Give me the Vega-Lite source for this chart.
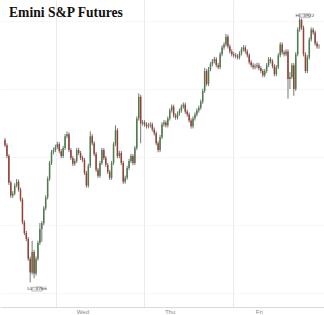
{
  "$schema": "https://vega.github.io/schema/vega-lite/v6.json",
  "width": 324,
  "height": 307,
  "autosize": {"type": "none"},
  "padding": {"left": 0, "right": 0, "top": 0, "bottom": 8},
  "background": "white",
  "title": {
    "text": "Emini S&P Futures",
    "anchor": "start",
    "frame": "group",
    "orient": "top",
    "offset": -31,
    "dx": 9,
    "baseline": "alphabetic",
    "font": "Liberation Serif",
    "fontSize": 13.6,
    "fontWeight": "bold",
    "color": "#111"
  },
  "config": {
    "view": {"stroke": null},
    "axis": {"gridColor": "#ececec", "gridWidth": 0.7}
  },
  "datasets": {
    "candles": [
      {"n":0,"o":3850.0,"c":3846.9,"h":3851.2,"l":3845.8},
      {"n":1,"o":3846.9,"c":3840.5,"h":3848.0,"l":3839.2},
      {"n":2,"o":3840.5,"c":3824.8,"h":3841.6,"l":3823.5},
      {"n":3,"o":3824.8,"c":3817.2,"h":3826.0,"l":3815.9},
      {"n":4,"o":3817.2,"c":3818.4,"h":3819.8,"l":3815.8},
      {"n":5,"o":3818.4,"c":3823.1,"h":3824.4,"l":3817.3},
      {"n":6,"o":3823.1,"c":3825.4,"h":3827.0,"l":3822.0},
      {"n":7,"o":3825.4,"c":3820.7,"h":3826.6,"l":3819.5},
      {"n":8,"o":3820.7,"c":3814.9,"h":3821.9,"l":3813.6},
      {"n":9,"o":3814.9,"c":3801.5,"h":3816.0,"l":3800.2},
      {"n":10,"o":3801.5,"c":3795.1,"h":3802.7,"l":3793.8},
      {"n":11,"o":3795.1,"c":3791.6,"h":3796.4,"l":3790.3},
      {"n":12,"o":3791.6,"c":3780.0,"h":3792.8,"l":3778.7},
      {"n":13,"o":3780.0,"c":3771.8,"h":3781.2,"l":3766.0},
      {"n":14,"o":3771.8,"c":3784.0,"h":3790.5,"l":3770.6},
      {"n":15,"o":3784.0,"c":3771.3,"h":3785.2,"l":3768.5},
      {"n":16,"o":3771.3,"c":3780.0,"h":3781.3,"l":3770.0},
      {"n":17,"o":3780.0,"c":3789.3,"h":3790.6,"l":3778.8},
      {"n":18,"o":3789.3,"c":3797.5,"h":3801.0,"l":3788.0},
      {"n":19,"o":3797.5,"c":3800.9,"h":3802.2,"l":3790.0},
      {"n":20,"o":3800.9,"c":3809.7,"h":3811.0,"l":3799.7},
      {"n":21,"o":3809.7,"c":3816.1,"h":3817.4,"l":3808.5},
      {"n":22,"o":3816.1,"c":3827.1,"h":3828.4,"l":3814.9},
      {"n":23,"o":3827.1,"c":3836.4,"h":3837.7,"l":3825.9},
      {"n":24,"o":3836.4,"c":3842.8,"h":3844.1,"l":3835.2},
      {"n":25,"o":3842.8,"c":3844.0,"h":3845.5,"l":3841.5},
      {"n":26,"o":3844.0,"c":3845.8,"h":3847.2,"l":3842.7},
      {"n":27,"o":3845.8,"c":3847.5,"h":3849.0,"l":3844.5},
      {"n":28,"o":3847.5,"c":3843.4,"h":3848.7,"l":3842.1},
      {"n":29,"o":3843.4,"c":3840.5,"h":3844.6,"l":3839.2},
      {"n":30,"o":3840.5,"c":3845.2,"h":3846.5,"l":3839.3},
      {"n":31,"o":3845.2,"c":3852.2,"h":3853.5,"l":3844.0},
      {"n":32,"o":3852.2,"c":3853.3,"h":3855.0,"l":3851.0},
      {"n":33,"o":3853.3,"c":3844.0,"h":3854.5,"l":3842.8},
      {"n":34,"o":3844.0,"c":3839.4,"h":3845.2,"l":3838.1},
      {"n":35,"o":3839.4,"c":3835.9,"h":3840.6,"l":3834.6},
      {"n":36,"o":3835.9,"c":3837.6,"h":3838.9,"l":3834.7},
      {"n":37,"o":3837.6,"c":3844.0,"h":3845.3,"l":3836.4},
      {"n":38,"o":3844.0,"c":3842.3,"h":3845.4,"l":3841.0},
      {"n":39,"o":3842.3,"c":3839.4,"h":3843.5,"l":3838.1},
      {"n":40,"o":3839.4,"c":3838.2,"h":3840.7,"l":3836.9},
      {"n":41,"o":3838.2,"c":3830.6,"h":3839.4,"l":3829.3},
      {"n":42,"o":3830.6,"c":3823.1,"h":3831.8,"l":3821.8},
      {"n":43,"o":3823.1,"c":3834.7,"h":3836.0,"l":3821.9},
      {"n":44,"o":3834.7,"c":3852.2,"h":3855.0,"l":3833.5},
      {"n":45,"o":3852.2,"c":3848.1,"h":3853.4,"l":3846.8},
      {"n":46,"o":3848.1,"c":3841.7,"h":3849.3,"l":3840.4},
      {"n":47,"o":3841.7,"c":3832.4,"h":3842.9,"l":3831.1},
      {"n":48,"o":3832.4,"c":3828.9,"h":3833.6,"l":3827.6},
      {"n":49,"o":3828.9,"c":3836.4,"h":3837.7,"l":3827.7},
      {"n":50,"o":3836.4,"c":3844.0,"h":3845.3,"l":3835.2},
      {"n":51,"o":3844.0,"c":3839.4,"h":3845.2,"l":3838.1},
      {"n":52,"o":3839.4,"c":3835.3,"h":3840.6,"l":3834.0},
      {"n":53,"o":3835.3,"c":3831.2,"h":3836.5,"l":3829.9},
      {"n":54,"o":3831.2,"c":3827.7,"h":3832.4,"l":3826.4},
      {"n":55,"o":3827.7,"c":3836.4,"h":3837.7,"l":3826.5},
      {"n":56,"o":3836.4,"c":3847.5,"h":3848.8,"l":3835.2},
      {"n":57,"o":3847.5,"c":3855.7,"h":3858.6,"l":3846.3},
      {"n":58,"o":3855.7,"c":3840.5,"h":3856.9,"l":3839.2},
      {"n":59,"o":3840.5,"c":3842.3,"h":3843.6,"l":3839.2},
      {"n":60,"o":3842.3,"c":3836.4,"h":3843.5,"l":3835.1},
      {"n":61,"o":3836.4,"c":3825.4,"h":3837.6,"l":3824.1},
      {"n":62,"o":3825.4,"c":3827.7,"h":3829.0,"l":3824.2},
      {"n":63,"o":3827.7,"c":3833.5,"h":3834.8,"l":3826.5},
      {"n":64,"o":3833.5,"c":3837.6,"h":3838.9,"l":3832.3},
      {"n":65,"o":3837.6,"c":3840.5,"h":3841.8,"l":3836.4},
      {"n":66,"o":3840.5,"c":3836.4,"h":3841.7,"l":3835.1},
      {"n":67,"o":3836.4,"c":3845.2,"h":3846.5,"l":3835.2},
      {"n":68,"o":3845.2,"c":3862.6,"h":3863.9,"l":3844.0},
      {"n":69,"o":3862.6,"c":3875.4,"h":3877.5,"l":3861.4},
      {"n":70,"o":3875.4,"c":3859.7,"h":3876.6,"l":3848.0},
      {"n":71,"o":3859.7,"c":3860.3,"h":3861.8,"l":3858.4},
      {"n":72,"o":3860.3,"c":3859.1,"h":3861.6,"l":3857.8},
      {"n":73,"o":3859.1,"c":3858.0,"h":3860.4,"l":3856.7},
      {"n":74,"o":3858.0,"c":3858.6,"h":3860.0,"l":3856.8},
      {"n":75,"o":3858.6,"c":3859.1,"h":3860.5,"l":3857.3},
      {"n":76,"o":3859.1,"c":3856.2,"h":3860.3,"l":3854.9},
      {"n":77,"o":3856.2,"c":3853.9,"h":3857.4,"l":3852.6},
      {"n":78,"o":3853.9,"c":3848.1,"h":3855.1,"l":3846.8},
      {"n":79,"o":3848.1,"c":3844.0,"h":3849.3,"l":3842.7},
      {"n":80,"o":3844.0,"c":3851.6,"h":3852.9,"l":3842.8},
      {"n":81,"o":3851.6,"c":3859.1,"h":3860.4,"l":3850.4},
      {"n":82,"o":3859.1,"c":3860.3,"h":3861.7,"l":3857.8},
      {"n":83,"o":3860.3,"c":3858.6,"h":3861.5,"l":3857.3},
      {"n":84,"o":3858.6,"c":3862.6,"h":3863.9,"l":3857.4},
      {"n":85,"o":3862.6,"c":3867.3,"h":3868.6,"l":3861.4},
      {"n":86,"o":3867.3,"c":3869.6,"h":3870.9,"l":3866.1},
      {"n":87,"o":3869.6,"c":3864.4,"h":3870.8,"l":3863.1},
      {"n":88,"o":3864.4,"c":3863.2,"h":3865.7,"l":3861.9},
      {"n":89,"o":3863.2,"c":3865.5,"h":3866.8,"l":3862.0},
      {"n":90,"o":3865.5,"c":3867.3,"h":3868.6,"l":3864.3},
      {"n":91,"o":3867.3,"c":3869.6,"h":3870.9,"l":3866.1},
      {"n":92,"o":3869.6,"c":3870.8,"h":3872.1,"l":3868.4},
      {"n":93,"o":3870.8,"c":3866.7,"h":3872.0,"l":3865.4},
      {"n":94,"o":3866.7,"c":3865.0,"h":3867.9,"l":3863.7},
      {"n":95,"o":3865.0,"c":3861.5,"h":3866.2,"l":3860.2},
      {"n":96,"o":3861.5,"c":3858.0,"h":3862.7,"l":3856.7},
      {"n":97,"o":3858.0,"c":3862.6,"h":3863.9,"l":3856.8},
      {"n":98,"o":3862.6,"c":3865.0,"h":3866.3,"l":3861.4},
      {"n":99,"o":3865.0,"c":3867.3,"h":3868.6,"l":3863.8},
      {"n":100,"o":3867.3,"c":3869.0,"h":3870.3,"l":3866.1},
      {"n":101,"o":3869.0,"c":3872.5,"h":3873.8,"l":3867.8},
      {"n":102,"o":3872.5,"c":3878.9,"h":3880.2,"l":3871.3},
      {"n":103,"o":3878.9,"c":3890.6,"h":3892.5,"l":3877.7},
      {"n":104,"o":3890.6,"c":3883.0,"h":3891.8,"l":3881.7},
      {"n":105,"o":3883.0,"c":3891.7,"h":3893.0,"l":3881.8},
      {"n":106,"o":3891.7,"c":3894.6,"h":3895.9,"l":3890.5},
      {"n":107,"o":3894.6,"c":3896.4,"h":3897.7,"l":3893.4},
      {"n":108,"o":3896.4,"c":3897.6,"h":3899.0,"l":3895.1},
      {"n":109,"o":3897.6,"c":3894.1,"h":3898.8,"l":3892.8},
      {"n":110,"o":3894.1,"c":3892.9,"h":3895.4,"l":3891.6},
      {"n":111,"o":3892.9,"c":3900.5,"h":3901.8,"l":3891.7},
      {"n":112,"o":3900.5,"c":3904.5,"h":3905.8,"l":3899.3},
      {"n":113,"o":3904.5,"c":3906.3,"h":3907.6,"l":3903.2},
      {"n":114,"o":3906.3,"c":3910.9,"h":3912.5,"l":3905.1},
      {"n":115,"o":3910.9,"c":3905.1,"h":3912.1,"l":3903.8},
      {"n":116,"o":3905.1,"c":3902.2,"h":3906.3,"l":3900.9},
      {"n":117,"o":3902.2,"c":3900.5,"h":3903.5,"l":3899.2},
      {"n":118,"o":3900.5,"c":3899.9,"h":3901.8,"l":3898.6},
      {"n":119,"o":3899.9,"c":3899.3,"h":3901.2,"l":3898.0},
      {"n":120,"o":3899.3,"c":3898.7,"h":3900.6,"l":3897.4},
      {"n":121,"o":3898.7,"c":3901.0,"h":3902.3,"l":3897.5},
      {"n":122,"o":3901.0,"c":3903.4,"h":3904.7,"l":3899.8},
      {"n":123,"o":3903.4,"c":3904.5,"h":3905.9,"l":3902.1},
      {"n":124,"o":3904.5,"c":3902.2,"h":3905.7,"l":3900.9},
      {"n":125,"o":3902.2,"c":3899.9,"h":3903.4,"l":3898.6},
      {"n":126,"o":3899.9,"c":3895.8,"h":3901.1,"l":3894.5},
      {"n":127,"o":3895.8,"c":3894.1,"h":3897.0,"l":3892.8},
      {"n":128,"o":3894.1,"c":3892.9,"h":3895.4,"l":3891.6},
      {"n":129,"o":3892.9,"c":3893.5,"h":3894.9,"l":3891.6},
      {"n":130,"o":3893.5,"c":3894.1,"h":3895.5,"l":3892.2},
      {"n":131,"o":3894.1,"c":3892.3,"h":3895.4,"l":3891.0},
      {"n":132,"o":3892.3,"c":3890.6,"h":3893.5,"l":3889.3},
      {"n":133,"o":3890.6,"c":3888.2,"h":3891.8,"l":3886.9},
      {"n":134,"o":3888.2,"c":3890.6,"h":3891.9,"l":3887.0},
      {"n":135,"o":3890.6,"c":3894.1,"h":3895.4,"l":3889.4},
      {"n":136,"o":3894.1,"c":3897.6,"h":3898.9,"l":3892.9},
      {"n":137,"o":3897.6,"c":3896.4,"h":3898.8,"l":3895.1},
      {"n":138,"o":3896.4,"c":3893.5,"h":3897.6,"l":3892.2},
      {"n":139,"o":3893.5,"c":3888.8,"h":3894.7,"l":3887.5},
      {"n":140,"o":3888.8,"c":3892.9,"h":3894.2,"l":3887.6},
      {"n":141,"o":3892.9,"c":3899.9,"h":3901.2,"l":3891.7},
      {"n":142,"o":3899.9,"c":3906.3,"h":3907.6,"l":3898.7},
      {"n":143,"o":3906.3,"c":3901.6,"h":3907.5,"l":3900.3},
      {"n":144,"o":3901.6,"c":3900.5,"h":3902.9,"l":3899.2},
      {"n":145,"o":3900.5,"c":3902.2,"h":3903.5,"l":3899.3},
      {"n":146,"o":3902.2,"c":3885.9,"h":3903.4,"l":3874.3},
      {"n":147,"o":3885.9,"c":3887.1,"h":3890.0,"l":3880.0},
      {"n":148,"o":3887.1,"c":3894.1,"h":3895.4,"l":3885.9},
      {"n":149,"o":3894.1,"c":3880.1,"h":3895.3,"l":3876.0},
      {"n":150,"o":3880.1,"c":3900.5,"h":3901.8,"l":3878.9},
      {"n":151,"o":3900.5,"c":3915.0,"h":3916.3,"l":3899.3},
      {"n":152,"o":3915.0,"c":3920.8,"h":3922.0,"l":3913.8},
      {"n":153,"o":3920.8,"c":3916.2,"h":3921.5,"l":3914.9},
      {"n":154,"o":3916.2,"c":3900.5,"h":3917.4,"l":3899.2},
      {"n":155,"o":3900.5,"c":3890.6,"h":3901.7,"l":3889.3},
      {"n":156,"o":3890.6,"c":3898.7,"h":3900.0,"l":3889.4},
      {"n":157,"o":3898.7,"c":3909.2,"h":3910.5,"l":3897.5},
      {"n":158,"o":3909.2,"c":3915.0,"h":3916.3,"l":3908.0},
      {"n":159,"o":3915.0,"c":3913.3,"h":3916.2,"l":3912.0},
      {"n":160,"o":3913.3,"c":3906.9,"h":3914.5,"l":3905.6},
      {"n":161,"o":3906.9,"c":3905.1,"h":3908.1,"l":3903.8},
      {"n":162,"o":3905.1,"c":3905.1,"h":3906.4,"l":3903.8}
    ],
    "marks": [
      {"n": 16.5, "p": 3762.0, "label": "Lo: 3766"},
      {"n": 154.75, "p": 3923.2, "label": "Hi: 3922"}
    ]
  },
  "layer": [
    {
      "data": {"name": "candles"},
      "mark": {"type": "rule", "strokeWidth": 0.7, "clip": true, "color": "#3c3c3c"},
      "encoding": {
        "x": {
          "field": "n", "type": "quantitative",
          "scale": {"domain": [0, 162], "nice": false, "zero": false},
          "axis": {
            "title": null,
            "values": [26.5, 71.5, 117.5],
            "labelExpr": "datum.value < 30 ? 'Wed' : (datum.value < 80 ? 'Thu' : 'Fri')",
            "labelOffset": 26,
            "labelFontSize": 6,
            "labelColor": "#888",
            "labelPadding": 1,
            "ticks": false,
            "domainColor": "#d0d0d0",
            "domainWidth": 0.8,
            "gridColor": "#e2e2e2",
            "grid": true
          }
        },
        "y": {
          "field": "l", "type": "quantitative",
          "scale": {"domain": [3751.5, 3932.5], "nice": false, "zero": false},
          "axis": {"title": null, "labels": false, "ticks": false, "domain": false, "values": [3760, 3780, 3800, 3820, 3840, 3860, 3880, 3900, 3920], "gridColor": "#f3f3f3"}
        },
        "y2": {"field": "h"}
      }
    },
    {
      "data": {"name": "candles"},
      "mark": {"type": "bar", "size": 1.5, "clip": true},
      "encoding": {
        "x": {"field": "n", "type": "quantitative"},
        "y": {"field": "o", "type": "quantitative"},
        "y2": {"field": "c"},
        "color": {"condition": {"test": "datum.c >= datum.o", "value": "#4e7d4a"}, "value": "#9a3d32"}
      }
    },
    {
      "data": {"name": "marks"},
      "mark": {"type": "point", "shape": "M-1,-0.36L1,-0.36L1,0.36L-1,0.36Z", "size": 110, "filled": true, "fill": "#f2f2f2", "stroke": "#9a9a9a", "strokeWidth": 0.6, "opacity": 1},
      "encoding": {
        "x": {"field": "n", "type": "quantitative"},
        "y": {"field": "p", "type": "quantitative"}
      }
    },
    {
      "data": {"name": "marks"},
      "mark": {"type": "text", "fontSize": 4.5, "color": "#444", "font": "DejaVu Sans"},
      "encoding": {
        "x": {"field": "n", "type": "quantitative"},
        "y": {"field": "p", "type": "quantitative"},
        "text": {"field": "label"}
      }
    }
  ]
}
